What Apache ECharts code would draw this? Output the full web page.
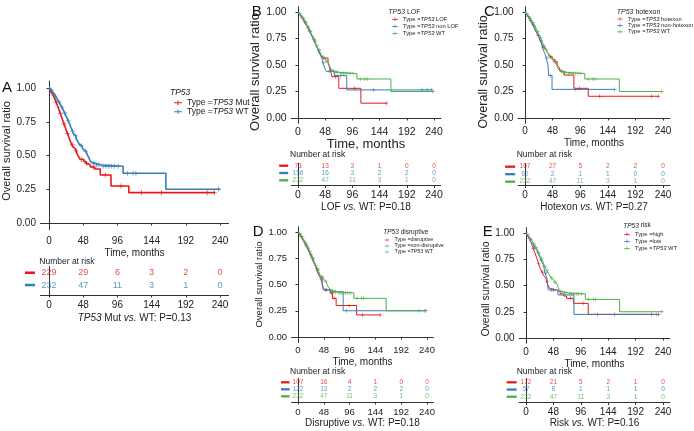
<!DOCTYPE html>
<html><head><meta charset="utf-8">
<script src="https://cdn.jsdelivr.net/npm/echarts@6/dist/echarts.min.js"></script>
<style>html,body{margin:0;padding:0;background:#fff}#c{width:694px;height:431px}</style>
</head><body><div id="c"></div><script>
// ---------- DATA ----------
const timeTicks = [0, 48, 96, 144, 192, 240];
const survTicks = [0, 0.25, 0.5, 0.75, 1];
const riskTimes = [0, 48, 96, 144, 192, 240];

// TP53 WT (shared by all panels)
const wtCurve = [[0,1],[1,0.996],[2,0.99],[3,0.985],[4,0.978],[5,0.97],[6,0.963],[7,0.955],[8,0.948],[9,0.94],[10,0.932],[11,0.924],[12,0.916],[13,0.906],[14,0.897],[15,0.887],[16,0.877],[17,0.868],[18,0.858],[19,0.847],[20,0.836],[21,0.826],[22,0.815],[23,0.803],[24,0.792],[25,0.78],[26,0.768],[27,0.756],[28,0.745],[29,0.733],[30,0.72],[31,0.706],[32,0.692],[33,0.68],[34,0.668],[35,0.656],[36,0.645],[38,0.63],[39,0.615],[41,0.6],[42,0.585],[44,0.572],[46,0.558],[48,0.545],[50,0.532],[52,0.518],[54,0.502],[56,0.485],[57,0.468],[59,0.452],[61,0.44],[66,0.43],[74,0.42],[104,0.368],[164,0.25],[240,0.25]];
const wtCens = [[3,0.985],[9,0.94],[14,0.897],[18,0.858],[22,0.815],[27,0.756],[33,0.68],[37,0.645],[45,0.572],[51,0.532],[63,0.44],[67,0.43],[70,0.43],[76,0.42],[80,0.42],[84,0.42],[88,0.42],[92,0.42],[97,0.42],[110,0.368],[118,0.368],[122,0.368],[238,0.25]];
const wtRisk = [232, 47, 11, 3, 1, 0];

// Panel A: TP53 Mut
const mutCurve = [[0,1],[1,0.993],[2,0.985],[3,0.975],[4,0.965],[5,0.955],[6,0.944],[7,0.932],[8,0.92],[9,0.908],[10,0.895],[11,0.882],[12,0.868],[13,0.854],[14,0.84],[15,0.825],[16,0.81],[17,0.796],[18,0.781],[19,0.766],[20,0.75],[21,0.735],[22,0.72],[23,0.705],[24,0.69],[25,0.676],[26,0.662],[27,0.648],[28,0.634],[29,0.62],[30,0.606],[31,0.592],[32,0.578],[34,0.563],[35,0.549],[37,0.535],[39,0.52],[40,0.505],[42,0.488],[44,0.47],[49,0.455],[52,0.44],[55,0.43],[58,0.415],[64,0.4],[72,0.356],[87,0.274],[112,0.225],[233,0.225]];
const mutCens = [[4,0.965],[10,0.895],[16,0.81],[21,0.735],[26,0.662],[33,0.578],[38,0.535],[46,0.47],[53,0.44],[62,0.415],[79,0.356],[101,0.274],[130,0.225],[158,0.225],[222,0.225],[232,0.225]];
const mutRisk = [229, 29, 6, 3, 2, 0];

// Panel B: LOF / non LOF
const lofCurve = [[0,1],[2,0.986],[4,0.972],[5,0.958],[7,0.944],[9,0.93],[10,0.916],[12,0.9],[13,0.884],[15,0.868],[17,0.85],[19,0.83],[21,0.81],[23,0.79],[25,0.77],[27,0.75],[29,0.725],[31,0.7],[33,0.675],[35,0.65],[37,0.62],[40,0.59],[43,0.565],[53,0.52],[55,0.49],[57,0.453],[60,0.39],[72,0.28],[111,0.14],[156,0.14]];
const lofCens = [[8,0.944],[18,0.85],[30,0.725],[46,0.565],[58,0.453],[66,0.39],[100,0.28],[156,0.14]];
const lofRisk = [73, 13, 3, 1, 0, 0];
const nonLofCurve = [[0,1],[1,0.994],[3,0.985],[4,0.975],[6,0.965],[7,0.955],[8,0.943],[10,0.93],[11,0.918],[12,0.905],[14,0.892],[15,0.878],[16,0.864],[18,0.85],[19,0.835],[20,0.82],[22,0.805],[23,0.79],[24,0.775],[26,0.758],[27,0.74],[29,0.722],[30,0.705],[32,0.688],[33,0.67],[35,0.652],[36,0.634],[38,0.615],[40,0.595],[41,0.575],[43,0.55],[44,0.52],[46,0.49],[48,0.46],[50,0.44],[64,0.4],[86,0.265],[236,0.265]];
const nonLofCens = [[5,0.965],[13,0.905],[21,0.82],[28,0.74],[37,0.634],[45,0.52],[55,0.44],[75,0.4],[133,0.265],[219,0.265],[228,0.265],[236,0.265]];
const nonLofRisk = [156, 16, 3, 2, 2, 0];

// Panel C: hotexon / non-hotexon
const hotCurve = [[0,1],[1,0.994],[2,0.986],[3,0.977],[5,0.967],[6,0.956],[7,0.945],[8,0.933],[10,0.921],[11,0.908],[12,0.895],[13,0.882],[15,0.868],[16,0.854],[17,0.84],[18,0.825],[20,0.81],[21,0.795],[22,0.78],[24,0.764],[25,0.748],[26,0.732],[28,0.716],[29,0.7],[31,0.684],[32,0.668],[34,0.652],[36,0.636],[38,0.62],[40,0.603],[42,0.578],[47,0.555],[52,0.53],[56,0.5],[59,0.48],[62,0.44],[68,0.405],[85,0.28],[110,0.205],[232,0.205]];
const hotCens = [[6,0.956],[14,0.882],[23,0.78],[33,0.668],[45,0.578],[53,0.53],[64,0.44],[95,0.28],[130,0.205],[220,0.205],[232,0.205]];
const hotRisk = [167, 27, 5, 2, 2, 0];
const nonHotCurve = [[0,1],[2,0.984],[3,0.968],[5,0.952],[7,0.935],[9,0.918],[11,0.9],[13,0.882],[15,0.862],[17,0.842],[19,0.82],[21,0.798],[23,0.776],[25,0.752],[27,0.728],[29,0.7],[30,0.67],[32,0.64],[35,0.6],[37,0.565],[40,0.5],[41,0.4],[47,0.27],[156,0.27]];
const nonHotCens = [[10,0.918],[28,0.728],[31,0.67],[38,0.565],[44,0.4],[88,0.27],[156,0.27]];
const nonHotRisk = [62, 2, 1, 1, 0, 0];

// Panel D: disruptive / non-disruptive
const disCurve = [[0,1],[1,0.99],[3,0.98],[4,0.97],[5,0.958],[7,0.946],[8,0.934],[10,0.92],[11,0.906],[13,0.892],[14,0.878],[16,0.863],[17,0.848],[19,0.832],[20,0.816],[22,0.8],[23,0.783],[25,0.765],[26,0.748],[28,0.73],[29,0.71],[31,0.69],[33,0.67],[34,0.65],[36,0.62],[38,0.595],[40,0.575],[42,0.56],[45,0.51],[47,0.47],[49,0.448],[60,0.42],[64,0.368],[71,0.3],[109,0.21],[153,0.21]];
const disCens = [[6,0.958],[15,0.878],[24,0.783],[35,0.65],[43,0.56],[52,0.448],[62,0.42],[67,0.368],[95,0.3],[120,0.21],[153,0.21]];
const disRisk = [107, 16, 4, 1, 0, 0];
const nonDisCurve = [[0,1],[1,0.994],[2,0.986],[4,0.977],[5,0.967],[6,0.957],[8,0.946],[9,0.935],[10,0.923],[12,0.91],[13,0.897],[14,0.883],[16,0.869],[17,0.855],[18,0.84],[20,0.825],[21,0.81],[23,0.794],[24,0.778],[26,0.761],[27,0.744],[29,0.726],[30,0.708],[32,0.69],[33,0.672],[35,0.653],[37,0.633],[39,0.612],[40,0.59],[42,0.56],[44,0.52],[47,0.45],[60,0.43],[84,0.25],[236,0.25]];
const nonDisCens = [[7,0.957],[19,0.84],[28,0.744],[38,0.633],[52,0.45],[65,0.43],[90,0.25],[225,0.25],[236,0.25]];
const nonDisRisk = [122, 13, 2, 2, 2, 0];

// Panel E: high / low risk
const highCurve = [[0,1],[1,0.993],[2,0.985],[3,0.976],[4,0.966],[5,0.956],[6,0.945],[7,0.933],[8,0.921],[9,0.908],[10,0.894],[11,0.88],[12,0.866],[13,0.851],[14,0.836],[15,0.821],[16,0.806],[17,0.79],[18,0.774],[19,0.758],[20,0.742],[21,0.726],[22,0.71],[23,0.694],[24,0.678],[25,0.662],[27,0.645],[28,0.628],[30,0.61],[31,0.592],[33,0.574],[35,0.556],[36,0.538],[38,0.52],[39,0.5],[41,0.475],[43,0.457],[54,0.44],[60,0.42],[66,0.4],[71,0.378],[83,0.33],[109,0.225],[232,0.225]];
const highCens = [[6,0.945],[13,0.851],[22,0.71],[29,0.628],[37,0.538],[48,0.457],[78,0.378],[100,0.33],[125,0.225],[155,0.225],[220,0.225],[232,0.225]];
const highRisk = [172, 21, 5, 2, 1, 0];
const lowCurve = [[0,1],[2,0.982],[3,0.964],[5,0.946],[7,0.928],[9,0.91],[11,0.892],[13,0.874],[15,0.856],[17,0.838],[19,0.82],[21,0.8],[23,0.78],[25,0.76],[26,0.74],[28,0.72],[30,0.7],[31,0.68],[32,0.655],[33,0.62],[36,0.585],[39,0.457],[56,0.41],[84,0.225],[229,0.225]];
const lowCens = [[14,0.874],[27,0.74],[35,0.62],[45,0.457],[229,0.225]];
const lowRisk = [57, 8, 1, 1, 1, 0];

// ---------- STYLE ----------
const FONT = "'Liberation Sans', Arial, Helvetica, sans-serif";
const RED = '#E41A1C', BLUE = '#377EB8', GREEN = '#4DAF4A';
const AX = '#333', TXT = '#222';
const PLUS = 'path://M0,4.2H10V5.8H0Z M4.2,0H5.8V10H4.2Z';
const LEGICON = 'path://M0,4.3H12V5.7H0Z M5.3,1.5H6.7V8.5H5.3Z';

const panels = [
  { letter:'A', lx:2, ly:88, legTitle:'{i|TP53}', ltx:170, lty:93, ltFont:8.5,
    legLeft:174, legTop:98.25, legLH:8.5, legFont:8.5, legW:8, legH:6,
    caption:'{i|TP53}{n| Mut }{i|vs.}{n| WT: P=0.13}',
    km:{left:40.45, top:81.25, width:188.1, height:148.5}, tb:{top:266.7, height:28.3, ymin:0.51, ymax:2.81},
    tick:10, yName:11, xName:10, yGap:25, yShift:-9, xGap:18, xMargin:6, yMargin:4.5, tbMargin:5, capGap:18.5, capFont:10,
    lw:1.6, cs:5, num:9, dashW:10, dashH:2.5, dashMargin:5.5, nar:{x:39.3, y:262},
    groups:[
      {key:'A1', label:'{n|Type =}{i|TP53}{n| Mut}', color:RED, curve:mutCurve, cens:mutCens, risk:mutRisk},
      {key:'A2', label:'{n|Type =}{i|TP53}{n| WT}', color:BLUE, curve:wtCurve, cens:wtCens, risk:wtRisk}
    ]},
  { letter:'B', lx:251.7, ly:12.3, legTitle:'{i|TP53}{n| LOF}', ltx:388.3, lty:12, ltFont:7,
    legLeft:392, legTop:15.8, legLH:7, legFont:5.8, legW:6, legH:5,
    caption:'{n|LOF }{i|vs.}{n| WT: P=0.18}',
    km:{left:291.2, top:6.7, width:149.6, height:116.6}, tb:{top:163.3, height:22.2, ymin:0.67, ymax:3.71},
    tick:10.5, yName:13, xName:13, yGap:24.7, yShift:14, xGap:13, xMargin:3, yMargin:4.5, tbMargin:4.3, capGap:16.5, capFont:10,
    lw:1, cs:4, num:6.5, dashW:9, dashH:2.3, dashMargin:3, nar:{x:290, y:155},
    groups:[
      {key:'B1', label:'{n|Type =}{i|TP53}{n| LOF}', color:RED, curve:lofCurve, cens:lofCens, risk:lofRisk},
      {key:'B2', label:'{n|Type =}{i|TP53}{n| non LOF}', color:BLUE, curve:nonLofCurve, cens:nonLofCens, risk:nonLofRisk},
      {key:'B3', label:'{n|Type =}{i|TP53}{n| WT}', color:GREEN, curve:wtCurve, cens:wtCens, risk:wtRisk}
    ]},
  { letter:'C', lx:484, ly:12, legTitle:'{i|TP53}{n| hotexon}', ltx:616.7, lty:12, ltFont:7,
    legLeft:617, legTop:15.8, legLH:6.4, legFont:5.8, legW:6, legH:5,
    caption:'{n|Hotexon }{i|vs.}{n| WT: P=0.27}',
    km:{left:518.1, top:6.7, width:151.8, height:116.6}, tb:{top:163.5, height:22, ymin:0.573, ymax:3.51},
    tick:10, yName:12.5, xName:10, yGap:26, yShift:14, xGap:14.7, xMargin:3, yMargin:4.5, tbMargin:4.3, capGap:16.5, capFont:10,
    lw:1, cs:4, num:6.5, dashW:10, dashH:2.3, dashMargin:3, nar:{x:516.7, y:155},
    groups:[
      {key:'C1', label:'{n|Type =}{i|TP53}{n| hotexon}', color:RED, curve:hotCurve, cens:hotCens, risk:hotRisk},
      {key:'C2', label:'{n|Type =}{i|TP53}{n| non-hotexon}', color:BLUE, curve:nonHotCurve, cens:nonHotCens, risk:nonHotRisk},
      {key:'C3', label:'{n|Type =}{i|TP53}{n| WT}', color:GREEN, curve:wtCurve, cens:wtCens, risk:wtRisk}
    ]},
  { letter:'D', lx:252.7, ly:231.7, legTitle:'{i|TP53}{n| disruptive}', ltx:383.3, lty:232.3, ltFont:6.5,
    legLeft:384.5, legTop:237, legLH:6, legFont:5.3, legW:5, legH:4,
    caption:'{n|Disruptive }{i|vs.}{n| WT: P=0.18}',
    km:{left:291.55, top:226.75, width:141.9, height:115.5}, tb:{top:378.5, height:23.5, ymin:0.457, ymax:3.81},
    tick:9.5, yName:9.5, xName:10, yGap:27, yShift:0, xGap:14.75, xMargin:3, yMargin:4.5, tbMargin:5, capGap:15, capFont:10,
    lw:1, cs:4, num:6.5, dashW:8.5, dashH:2.3, dashMargin:2, nar:{x:290, y:372},
    groups:[
      {key:'D1', label:'{n|Type =disruptive}', color:RED, curve:disCurve, cens:disCens, risk:disRisk},
      {key:'D2', label:'{n|Type =non-disruptive}', color:BLUE, curve:nonDisCurve, cens:nonDisCens, risk:nonDisRisk},
      {key:'D3', label:'{n|Type =}{i|TP53}{n| WT}', color:GREEN, curve:wtCurve, cens:wtCens, risk:wtRisk}
    ]},
  { letter:'E', lx:482.7, ly:231.7, legTitle:'{i|TP53}{n| risk}', ltx:623.3, lty:225.7, ltFont:6.5,
    legLeft:624, legTop:230.8, legLH:7, legFont:5.8, legW:6, legH:5,
    caption:'{n|Risk }{i|vs.}{n| WT: P=0.16}',
    km:{left:519.15, top:227.75, width:150.7, height:115.5}, tb:{top:378.5, height:24, ymin:0.47, ymax:3.8},
    tick:10, yName:10.5, xName:10, yGap:26.7, yShift:7, xGap:15.75, xMargin:3.5, yMargin:4.5, tbMargin:5, capGap:15, capFont:10,
    lw:1, cs:4, num:6.5, dashW:10, dashH:2.3, dashMargin:2.5, nar:{x:516.7, y:372},
    groups:[
      {key:'E1', label:'{n|Type =high}', color:RED, curve:highCurve, cens:highCens, risk:highRisk},
      {key:'E2', label:'{n|Type =low}', color:BLUE, curve:lowCurve, cens:lowCens, risk:lowRisk},
      {key:'E3', label:'{n|Type =}{i|TP53}{n| WT}', color:GREEN, curve:wtCurve, cens:wtCens, risk:wtRisk}
    ]}
];

// ---------- BUILD ----------
const option = { animation:false, textStyle:{fontFamily:FONT}, grid:[], xAxis:[], yAxis:[], series:[], legend:[], graphic:[] };
const labelMap = {};
const axLine = {show:true, lineStyle:{color:AX, width:1}};

panels.forEach(p => {
  const g = option.grid.length;
  option.grid.push({left:p.km.left, top:p.km.top, width:p.km.width, height:p.km.height});
  option.grid.push({left:p.km.left, top:p.tb.top, width:p.km.width, height:p.tb.height});

  option.xAxis.push({gridIndex:g, type:'value', min:-12, max:252,
    axisLine:axLine, axisTick:{show:true, length:2.5, customValues:timeTicks, lineStyle:{color:AX}},
    axisLabel:{customValues:timeTicks, fontSize:p.tick, color:TXT, margin:p.xMargin, fontFamily:FONT},
    splitLine:{show:false}, name:'Time, months', nameLocation:'middle', nameGap:p.xGap,
    nameTextStyle:{fontSize:p.xName, color:TXT, fontFamily:FONT}});
  const sh = p.yShift;
  option.yAxis.push({gridIndex:g, type:'value', min:-0.05, max:1.05,
    axisLine:axLine, axisTick:{show:true, length:2.5, customValues:survTicks, lineStyle:{color:AX}},
    axisLabel:{customValues:survTicks, formatter:v => v.toFixed(2), fontSize:p.tick, color:TXT, margin:p.yMargin, fontFamily:FONT},
    splitLine:{show:false}, name:'Overall survival ratio', nameLocation:'middle', nameGap:p.yGap, nameRotate:90,
    nameTextStyle:{fontSize:p.yName, color:TXT, fontFamily:FONT, padding: sh >= 0 ? [0, sh, 0, 0] : [0, 0, 0, -sh]}});

  const capRich = {
    n:{fontSize:p.capFont, color:TXT, fontFamily:FONT},
    i:{fontSize:p.capFont, color:TXT, fontFamily:FONT, fontStyle:'italic'}
  };
  option.xAxis.push({gridIndex:g+1, type:'value', min:-12, max:252,
    axisLine:axLine, axisTick:{show:true, length:2.5, customValues:timeTicks, lineStyle:{color:AX}},
    axisLabel:{customValues:timeTicks, fontSize:p.tick, color:TXT, margin:p.tbMargin, fontFamily:FONT},
    splitLine:{show:false}, name:p.caption, nameLocation:'middle', nameGap:p.capGap,
    nameTextStyle:{fontSize:p.capFont, color:TXT, fontFamily:FONT, rich:capRich}});
  const dashRich = {};
  p.groups.forEach((gr, i) => { dashRich['c' + (i + 1)] = {width:p.dashW, height:p.dashH, lineHeight:p.dashH, fontSize:2, backgroundColor:gr.color}; });
  option.yAxis.push({gridIndex:g+1, type:'value', inverse:true, min:p.tb.ymin, max:p.tb.ymax,
    axisLine:axLine, axisTick:{show:false},
    axisLabel:{customValues:p.groups.map((_, i) => i + 1), formatter:v => '{c' + Math.round(v) + '|}',
      margin:p.dashMargin, fontSize:2, lineHeight:2, hideOverlap:false, showMinLabel:true, showMaxLabel:true, rich:dashRich},
    splitLine:{show:false}});

  p.groups.forEach((gr, gi) => {
    labelMap[gr.key] = gr.label;
    option.series.push({type:'line', name:gr.key, xAxisIndex:g, yAxisIndex:g, data:gr.curve, step:'end',
      showSymbol:false, symbol:'none', lineStyle:{color:gr.color, width:p.lw}, itemStyle:{color:gr.color}, z:2 + gi});
    option.series.push({type:'scatter', xAxisIndex:g, yAxisIndex:g, data:gr.cens, symbol:PLUS, symbolSize:p.cs,
      itemStyle:{color:gr.color}, silent:true, z:2 + gi});
    option.series.push({type:'scatter', xAxisIndex:g+1, yAxisIndex:g+1,
      data:riskTimes.map((t, i) => [t, gi + 1, gr.risk[i]]), symbolSize:0.1, itemStyle:{color:'rgba(0,0,0,0)'},
      label:{show:true, position:'inside', formatter:d => String(d.value[2]), color:gr.color, fontSize:p.num, fontFamily:FONT},
      silent:true});
  });

  const legRich = {
    n:{fontSize:p.legFont, color:TXT, fontFamily:FONT, lineHeight:p.legLH},
    i:{fontSize:p.legFont, color:TXT, fontFamily:FONT, fontStyle:'italic', lineHeight:p.legLH}
  };
  option.legend.push({orient:'vertical', left:p.legLeft, top:p.legTop, itemGap:0, itemWidth:p.legW, itemHeight:p.legH,
    icon:LEGICON, padding:0, selectedMode:false, data:p.groups.map(gr => gr.key),
    formatter:name => labelMap[name],
    textStyle:{fontSize:p.legFont, color:TXT, fontFamily:FONT, lineHeight:p.legLH, rich:legRich}});

  option.graphic.push({type:'text', x:p.lx, y:p.ly, style:{text:p.letter, fontSize:15, fontFamily:FONT, fill:'#111', verticalAlign:'middle', align:'left'}});
  option.graphic.push({type:'text', x:p.ltx, y:p.lty, style:{text:p.legTitle, fontSize:p.ltFont, fontFamily:FONT, fill:TXT, verticalAlign:'middle', align:'left',
    rich:{n:{fontSize:p.ltFont, fontFamily:FONT, fill:TXT}, i:{fontSize:p.ltFont, fontFamily:FONT, fill:TXT, fontStyle:'italic'}}}});
  option.graphic.push({type:'text', x:p.nar.x, y:p.nar.y, style:{text:'Number at risk', fontSize:8.5, fontFamily:FONT, fill:TXT, verticalAlign:'middle', align:'left'}});
});

const chart = echarts.init(document.getElementById('c'), null, {renderer:'canvas'});
chart.setOption(option);
</script></body></html>
